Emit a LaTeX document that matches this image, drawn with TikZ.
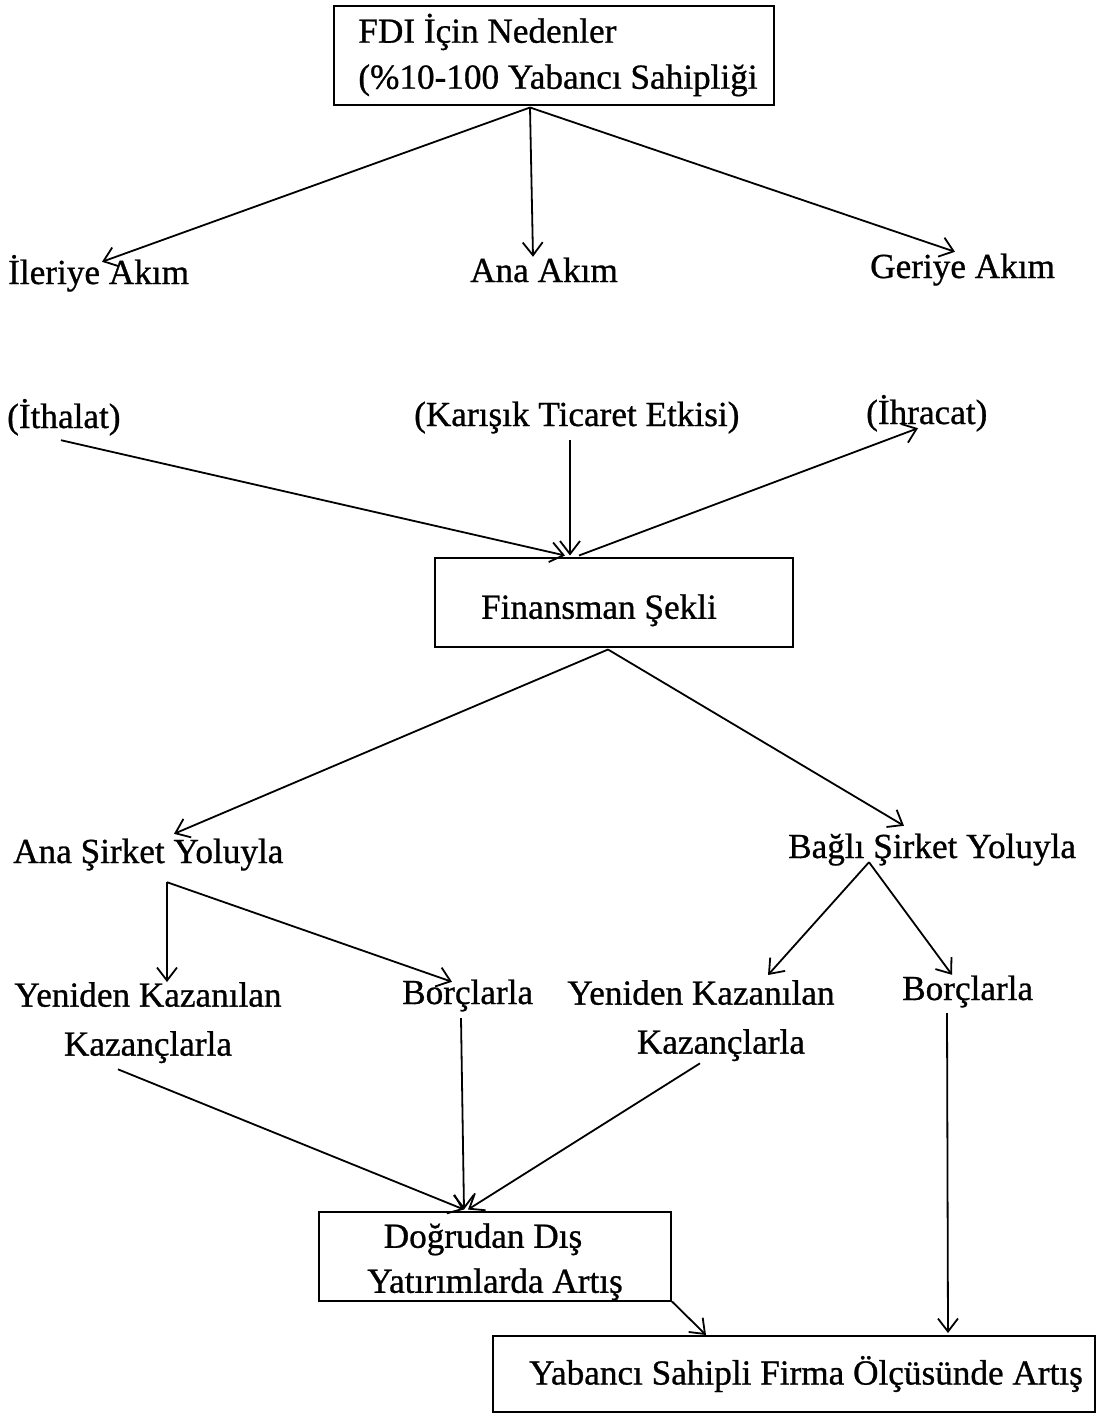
\documentclass[tikz,border=0pt]{standalone}
\usepackage{fontspec}
\setmainfont{Liberation Serif}[FakeBold=0.8]
\usetikzlibrary{arrows.meta}
\begin{document}
\begin{tikzpicture}[x=1pt,y=-1pt,
  every node/.style={font=\fontsize{35.2}{46}\selectfont},
  lbl/.style={inner sep=0pt, anchor=base west, text height=24pt, text depth=8pt},
  lbltwo/.style={inner sep=0pt, anchor=north, align=center, font=\fontsize{35.2}{49}\selectfont},
  boxed/.style={draw, line width=2pt, inner sep=0pt},
  arr/.style={line width=1.8pt, -{Straight Barb[length=13pt,width=20pt,line width=1.8pt]}}]
\useasboundingbox (0,0) rectangle (1113,1414);

% top box
\node[boxed, minimum width=440pt, minimum height=99pt, align=left] (fdi) at (554,55)
  {\hspace*{8pt}FDI İçin Nedenler\\\hspace*{8pt}(\%10-100 Yabancı Sahipliği};

% flow directions
\node[lbl] (ileri) at (8,284) {İleriye Akım};
\node[lbl] (anaak) at (470,282) {Ana Akım};
\node[lbl] (geri)  at (870,278) {Geriye Akım};

% trade effects
\node[lbl] (ithal) at (7,428)   {(İthalat)};
\node[lbl] (karis) at (414,426) {(Karışık Ticaret Etkisi)};
\node[lbl] (ihr)   at (866,424) {(İhracat)};

% financing
\node[boxed, minimum width=358pt, minimum height=89pt] (fin) at (614,602)
  {\rule{0pt}{41pt}Finansman Şekli\hspace*{30pt}};

\node[lbl] (anasir) at (13,863)  {Ana Şirket Yoluyla};
\node[lbl] (bagli)  at (788,858) {Bağlı Şirket Yoluyla};

\node[lbltwo] (yk1) at (148,982) {Yeniden Kazanılan\\Kazançlarla};
\node[lbl] (bor1) at (402,1004) {Borçlarla};
\node[lbltwo] (yk2) at (701,980) {Yeniden Kazanılan\\\hspace*{40pt}Kazançlarla};
\node[lbl] (bor2) at (902,1000) {Borçlarla};

% results
\node[boxed, minimum width=352pt, minimum height=89pt, align=center,
      font=\fontsize{35.2}{45}\selectfont] (dog) at (495,1256)
  {\rule{0pt}{36pt}Doğrudan Dış\hspace*{24pt}\\Yatırımlarda Artış};
\node[boxed, minimum width=602pt, minimum height=76pt] (yab) at (794,1374)
  {\hspace*{24pt}Yabancı Sahipli Firma Ölçüsünde Artış};

% connectors
\draw[arr] ([shift={(-24,2)}]fdi.south) -- ([shift={(94,2)}]ileri.north west);
\draw[arr] ([shift={(-24,2)}]fdi.south) -- ([shift={(63,-1)}]anaak.north west);
\draw[arr] ([shift={(-24,2)}]fdi.south) -- ([shift={(85,-2)}]geri.north west);

\draw[arr] ([shift={(54,4)}]ithal.south west) -- ([shift={(-49,-1)}]fin.north);
\draw[arr] ([shift={(156,6)}]karis.south west) -- ([shift={(-44,-1)}]fin.north);
\draw[arr] ([shift={(-35,-1)}]fin.north) -- ([shift={(52,-4)}]ihr.south west);

\draw[arr] ([shift={(-6,2)}]fin.south) -- ([shift={(161,-5)}]anasir.north west);
\draw[arr] ([shift={(-6,2)}]fin.south) -- ([shift={(116,-8)}]bagli.north west);

\draw[arr] ([shift={(154,11)}]anasir.south west) -- ([shift={(19,0)}]yk1.north);
\draw[arr] ([shift={(154,11)}]anasir.south west) -- ([shift={(50,2)}]bor1.north west);
\draw[arr] ([shift={(81,-4)}]bagli.south west) -- ([shift={(67,-5)}]yk2.north);
\draw[arr] ([shift={(81,-4)}]bagli.south west) -- ([shift={(50,-1)}]bor2.north west);

\draw[arr] ([shift={(-30,6)}]yk1.south) -- ([shift={(-31,-1)}]dog.north);
\draw[arr] ([shift={(59,6)}]bor1.south west) -- ([shift={(-31,-1)}]dog.north);
\draw[arr] ([shift={(-1,2)}]yk2.south) -- ([shift={(-27,-1)}]dog.north);

\draw[arr] (dog.south east) -- ([shift={(214,0)}]yab.north west);
\draw[arr] ([shift={(45,5)}]bor2.south west) -- ([shift={(456,-2)}]yab.north west);
\end{tikzpicture}
\end{document}
